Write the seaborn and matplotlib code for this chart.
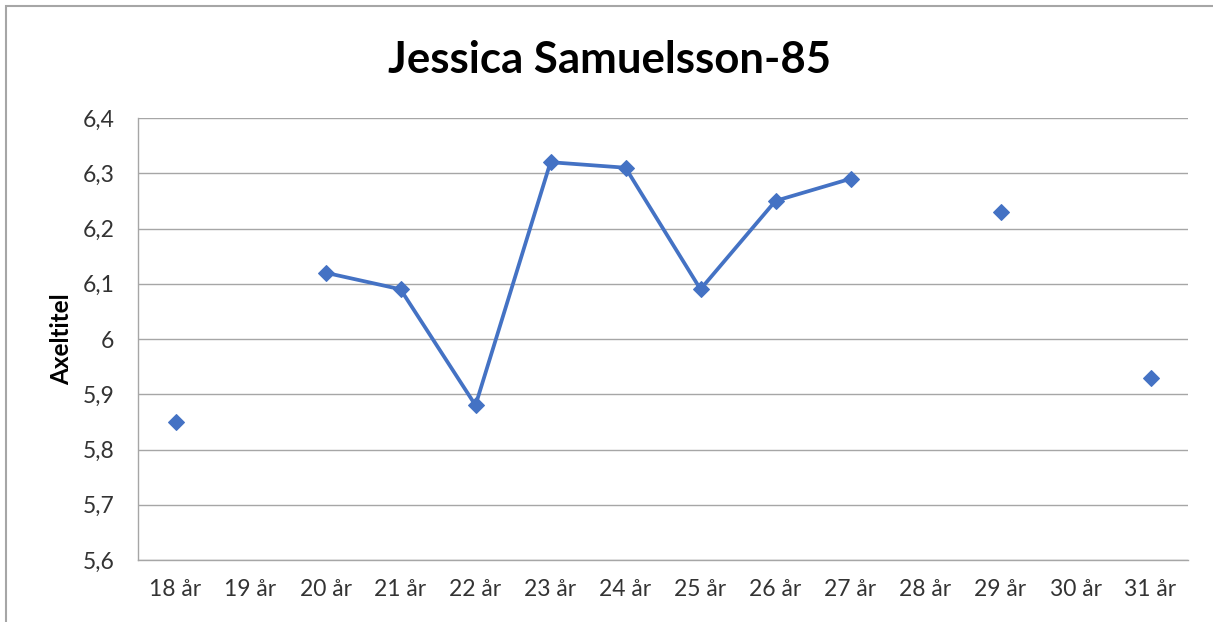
import numpy as np
import pandas as pd
import matplotlib
matplotlib.use("Agg")
import matplotlib.pyplot as plt
import matplotlib.ticker as mticker
import seaborn as sns

categories = ["18 år", "19 år", "20 år", "21 år", "22 år", "23 år", "24 år",
              "25 år", "26 år", "27 år", "28 år", "29 år", "30 år", "31 år"]
values = [5.85, np.nan, 6.12, 6.09, 5.88, 6.32, 6.31,
          6.09, 6.25, 6.29, np.nan, 6.23, np.nan, 5.93]
title = "Jessica Samuelsson-85"
y_label = "Axeltitel"
y_ticks = [5.6, 5.7, 5.8, 5.9, 6.0, 6.1, 6.2, 6.3, 6.4]

sns.set_theme(style="white")
plt.rcParams["font.family"] = ["Lato", "DejaVu Sans"]

df = pd.DataFrame({"pos": np.arange(len(categories)), "val": values})
df["seg"] = df["val"].isna().cumsum()
df = df.dropna()

fig = plt.figure(figsize=(12.13, 6.22), dpi=100)
ax = fig.add_axes([138/1213, 1-560/622, (1188-138)/1213, (560-118)/622])

sns.lineplot(data=df, x="pos", y="val", units="seg", estimator=None,
             color="#4472C4", linewidth=2.7, marker="D", markersize=8.5,
             markeredgecolor="#4472C4", ax=ax, legend=False)

ax.set_xlim(-0.5, len(categories) - 0.5)
ax.set_ylim(5.6, 6.4)
ax.set_xticks(np.arange(len(categories)))
ax.set_xticklabels(categories, fontsize=16.5, color="#333333")
ax.set_yticks(y_ticks)
ax.yaxis.set_major_formatter(mticker.FuncFormatter(
    lambda v, p: (f"{v:.1f}".rstrip("0").rstrip(".")).replace(".", ",")))
ax.tick_params(axis="y", labelsize=16.5, colors="#333333", length=0, pad=17)
ax.tick_params(axis="x", length=0, pad=14)
ax.grid(axis="y", color="#a6a6a6", linewidth=1.0)
ax.grid(axis="x", visible=False)
for s in ["top", "right"]:
    ax.spines[s].set_visible(False)
for s in ["left", "bottom"]:
    ax.spines[s].set_color("#a6a6a6")
    ax.spines[s].set_linewidth(1.0)

ax.set_xlabel("")
ax.set_ylabel(y_label, fontsize=17.5, fontweight="bold", color="black", labelpad=7)
fig.text((387+832)/2/1213, 1-60/622, title, ha="center", va="center",
         fontsize=31.5, fontweight="bold", color="black")

border = plt.Rectangle((6/1213, -0.05), 1.2, 1.05-6/622, transform=fig.transFigure,
                       fill=False, edgecolor="#a6a6a6", linewidth=1.5)
fig.add_artist(border)

fig.savefig("out.png", dpi=100)
